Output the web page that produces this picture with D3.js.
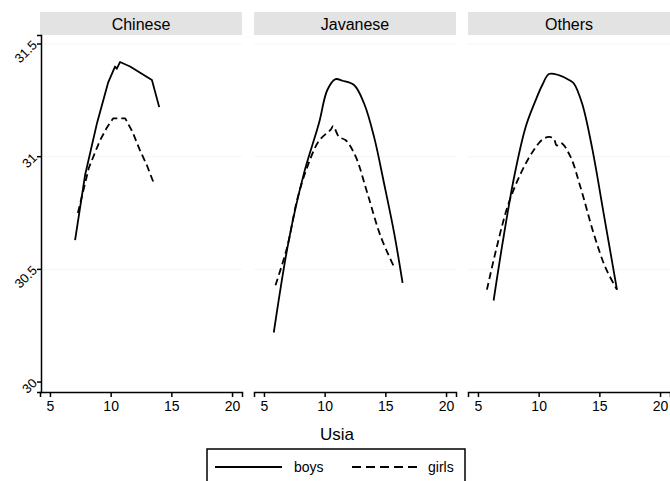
<!DOCTYPE html>
<html lang="en">
<head>
  <meta charset="UTF-8">
  <title>Usia by group</title>
  <script src="https://d3js.org/d3.v7.min.js"></script>
  <style>
    body { margin: 0; padding: 0; background: #fff; overflow: hidden; }
    svg { display: block; font-family: "Liberation Sans", Arial, sans-serif; }
    .strip text { font-size: 16px; fill: #000; }
    .xaxis text { font-size: 14px; fill: #000; }
    .yaxis text { font-size: 13px; fill: #000; }
    .xaxis path, .xaxis line, .yaxis path, .yaxis line { stroke: #000; stroke-width: 1.5px; }
  </style>
</head>
<body>
  <svg id="chart" width="670" height="481"></svg>

  <script>
    const groups = ["Chinese", "Javanese", "Others"];
    const xTicks = [5, 10, 15, 20];
    const yTicks = [30, 30.5, 31, 31.5];

    const chineseBoysAge = [7.07, 7.9, 8.88, 9.8, 10.36, 10.5, 10.77, 11.6, 12.5, 13.4, 14.0];
    const chineseBoysVal = [30.63, 30.92, 31.15, 31.33, 31.40, 31.39, 31.42, 31.40, 31.37, 31.34, 31.22];
    const chineseGirlsAge = [7.3, 8.2, 9.1, 9.7, 10.2, 11.2, 11.8, 12.4, 13.0, 13.5];
    const chineseGirlsVal = [30.75, 30.95, 31.07, 31.13, 31.17, 31.17, 31.11, 31.03, 30.96, 30.89];

    const javaneseBoysAge = [5.81, 7.05, 8.29, 9.53, 10.22, 10.9, 11.46, 12.42, 13.25, 14.07, 14.9, 15.73, 16.42];
    const javaneseBoysVal = [30.22, 30.63, 30.925, 31.148, 31.296, 31.344, 31.337, 31.318, 31.236, 31.088, 30.88, 30.66, 30.44];
    const javaneseGirlsAge = [5.95, 6.92, 7.74, 8.57, 9.53, 10.5, 10.7, 11.18, 11.74, 12.56, 13.53, 14.63, 15.73];
    const javaneseGirlsVal = [30.43, 30.60, 30.81, 30.955, 31.07, 31.12, 31.136, 31.088, 31.073, 31.0, 30.836, 30.644, 30.51];

    const othersBoysAge = [6.29, 7.02, 7.98, 8.93, 9.75, 10.3, 10.85, 11.66, 12.62, 12.9, 13.58, 14.4, 15.35, 16.45];
    const othersBoysVal = [30.362, 30.614, 30.91, 31.132, 31.25, 31.318, 31.367, 31.362, 31.337, 31.325, 31.236, 31.04, 30.75, 30.41];
    const othersGirlsAge = [5.74, 6.48, 7.43, 8.39, 9.48, 10.3, 10.85, 11.25, 11.48, 11.86, 12.62, 13.44, 14.53, 15.49, 16.45];
    const othersGirlsVal = [30.41, 30.584, 30.777, 30.91, 31.02, 31.076, 31.088, 31.08, 31.05, 31.06, 31.0, 30.866, 30.66, 30.51, 30.41];

    const series = {
      Chinese:  { boys: [chineseBoysAge, chineseBoysVal],   girls: [chineseGirlsAge, chineseGirlsVal] },
      Javanese: { boys: [javaneseBoysAge, javaneseBoysVal], girls: [javaneseGirlsAge, javaneseGirlsVal] },
      Others:   { boys: [othersBoysAge, othersBoysVal],     girls: [othersGirlsAge, othersGirlsVal] }
    };

    // —— layout ——
    const panelLeft = 40, panelW = 202, panelGap = 12;
    const stripTop = 12, stripH = 23;
    const plotTop = stripTop + stripH, plotBottom = 392;

    const svg = d3.select("#chart");
    const y = d3.scaleLinear().domain([29.956, 31.54]).range([plotBottom, plotTop]);

    groups.forEach((g, i) => {
      const left = panelLeft + i * (panelW + panelGap);
      const x = d3.scaleLinear().domain([4.18, 20.82]).range([left, left + panelW]);
      const p = svg.append("g");

      // strip
      const strip = p.append("g").attr("class", "strip");
      strip.append("rect")
        .attr("x", left).attr("y", stripTop)
        .attr("width", panelW).attr("height", stripH)
        .attr("fill", "#e3e3e3");
      strip.append("text")
        .attr("x", left + panelW / 2).attr("y", stripTop + stripH / 2 + 6)
        .attr("text-anchor", "middle")
        .text(g);

      // faint gridlines
      p.append("g").selectAll("line")
        .data(yTicks.filter(t => t > 30))
        .join("line")
        .attr("x1", left).attr("x2", left + panelW)
        .attr("y1", d => y(d)).attr("y2", d => y(d))
        .attr("stroke", "#f5f5f5").attr("stroke-width", 1);

      // x axis
      p.append("g").attr("class", "xaxis")
        .attr("transform", `translate(0,${plotBottom})`)
        .call(d3.axisBottom(x).tickValues(xTicks).tickSizeOuter(0).tickSize(5).tickPadding(4));

      // y axis only on first panel
      if (i === 0) {
        const ya = p.append("g").attr("class", "yaxis")
          .attr("transform", `translate(${left + 1},0)`)
          .call(d3.axisLeft(y).tickValues(yTicks).tickSizeOuter(0).tickSize(4)
                  .tickFormat(d3.format("~g")));
        ya.selectAll(".tick").attr("transform", null);
        ya.selectAll(".tick line").attr("y1", d => y(d)).attr("y2", d => y(d));
        ya.selectAll("text")
          .attr("x", -5).attr("y", d => y(d)).attr("dy", "0.2em")
          .attr("text-anchor", "end")
          .attr("transform", d => `rotate(-45,-5,${y(d)})`);
      }

      // curves
      const line = d3.line()
        .x(d => x(d[0])).y(d => y(d[1]))
        .curve(g === "Chinese" ? d3.curveLinear : d3.curveCatmullRom.alpha(0.5));
      ["boys", "girls"].forEach(s => {
        const [ages, vals] = series[g][s];
        p.append("path")
          .attr("d", line(d3.zip(ages, vals)))
          .attr("fill", "none")
          .attr("stroke", "#000")
          .attr("stroke-width", 1.8)
          .attr("stroke-linejoin", "round")
          .attr("stroke-dasharray", s === "girls" ? "7,4" : null);
      });
    });

    // x title
    svg.append("text")
      .attr("x", 337).attr("y", 440)
      .attr("text-anchor", "middle")
      .style("font-size", "17px").attr("fill", "#000")
      .text("Usia");

    // legend
    const lg = svg.append("g");
    lg.append("rect")
      .attr("x", 207).attr("y", 449).attr("width", 258).attr("height", 40)
      .attr("fill", "#fff").attr("stroke", "#000").attr("stroke-width", 1.5);
    const legendItems = [
      { label: "boys", dash: null, x1: 215, x2: 282, tx: 294 },
      { label: "girls", dash: "9,5", x1: 352, x2: 418, tx: 428 }
    ];
    legendItems.forEach(d => {
      lg.append("line")
        .attr("x1", d.x1).attr("x2", d.x2).attr("y1", 467).attr("y2", 467)
        .attr("stroke", "#000").attr("stroke-width", 2)
        .attr("stroke-dasharray", d.dash);
      lg.append("text")
        .attr("x", d.tx).attr("y", 472)
        .style("font-size", "14px").attr("fill", "#000")
        .text(d.label);
    });
  </script>
</body>
</html>
